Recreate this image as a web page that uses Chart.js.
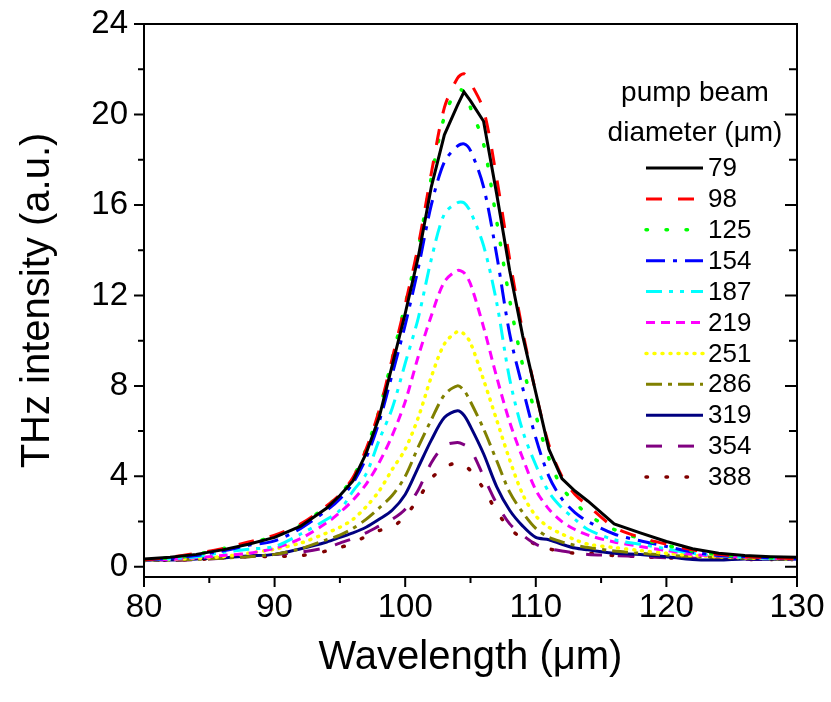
<!DOCTYPE html>
<html>
<head>
<meta charset="utf-8">
<script src="https://cdn.jsdelivr.net/npm/chart.js@4.4.1/dist/chart.umd.min.js"></script>
<style>
  html, body { margin: 0; padding: 0; background: #fff; }
</style>
</head>
<body>
<canvas id="thzChart" width="831" height="702"></canvas>
<script>
// wavelength grid (um) shared by all curves
const wavelength = [80, 82, 84, 86, 88, 90, 92, 94, 95, 96, 97, 98, 99, 100, 101, 102, 103, 104, 104.5,
                    105, 106, 107, 108, 109, 110, 111, 112, 113, 114, 116, 118, 120, 122, 124, 126, 128, 130];

const diameters = ['79', '98', '125', '154', '187', '219', '251', '286', '319', '354', '388'];

const s79  = [0.35, 0.42, 0.55, 0.75, 1.0, 1.3, 1.8, 2.6, 3.15, 3.8, 5.0, 6.6, 8.9, 11.2, 13.7, 16.8, 19.1, 20.4, 21.0,
              20.6, 19.7, 16.5, 13.1, 10.2, 7.7, 5.2, 3.9, 3.35, 2.9, 1.9, 1.5, 1.12, 0.8, 0.6, 0.5, 0.45, 0.42];
const s98  = [0.3, 0.42, 0.6, 0.8, 1.1, 1.4, 1.9, 2.7, 3.2, 3.95, 5.2, 6.9, 9.2, 11.6, 14.2, 17.4, 20.3, 21.6, 21.8,
              21.4, 20.2, 17.2, 13.6, 10.4, 7.7, 5.4, 4.0, 3.2, 2.7, 1.75, 1.3, 1.0, 0.75, 0.55, 0.45, 0.4, 0.35];
const s125 = [0.3, 0.4, 0.55, 0.8, 1.05, 1.35, 1.85, 2.7, 3.2, 3.95, 5.2, 6.9, 9.2, 11.6, 14.1, 17.2, 19.9, 21.1, 21.0,
              20.3, 18.7, 15.3, 11.8, 8.9, 6.7, 4.8, 3.5, 2.85, 2.3, 1.65, 1.25, 0.95, 0.7, 0.55, 0.45, 0.4, 0.35];
const s154 = [0.3, 0.38, 0.5, 0.7, 0.95, 1.15, 1.7, 2.5, 3.0, 3.7, 4.8, 6.4, 8.5, 10.7, 13.2, 16.0, 17.9, 18.6, 18.7,
              18.4, 16.8, 13.8, 10.3, 7.9, 5.7, 4.0, 3.0, 2.4, 2.0, 1.45, 1.15, 0.9, 0.65, 0.5, 0.45, 0.4, 0.35];
const s187 = [0.3, 0.35, 0.45, 0.63, 0.78, 0.9, 1.45, 2.1, 2.5, 3.35, 4.1, 5.6, 7.0, 9.0, 11.0, 13.6, 15.6, 16.1, 16.1,
              15.7, 14.2, 11.7, 8.3, 6.0, 4.5, 3.3, 2.6, 2.1, 1.65, 1.2, 1.0, 0.8, 0.6, 0.5, 0.42, 0.38, 0.35];
const s219 = [0.3, 0.33, 0.4, 0.5, 0.6, 0.82, 1.25, 1.95, 2.4, 2.95, 3.65, 4.6, 5.8, 7.3, 9.3, 11.1, 12.6, 13.1, 13.0,
              12.5, 10.6, 8.4, 6.4, 4.8, 3.4, 2.55, 2.0, 1.65, 1.4, 1.1, 0.9, 0.72, 0.55, 0.48, 0.42, 0.38, 0.35];
const s251 = [0.3, 0.33, 0.38, 0.45, 0.6, 0.78, 1.05, 1.5, 1.75, 2.1, 2.65, 3.35, 4.3, 5.2, 6.6, 8.4, 9.85, 10.4, 10.3,
              9.9, 8.27, 6.5, 4.73, 3.2, 2.25, 1.75, 1.45, 1.2, 1.0, 0.85, 0.72, 0.6, 0.5, 0.45, 0.4, 0.37, 0.35];
const s286 = [0.3, 0.3, 0.33, 0.38, 0.45, 0.55, 0.8, 1.2, 1.4, 1.7, 2.1, 2.6, 3.15, 4.0, 5.3, 6.5, 7.6, 8.0, 7.8,
              7.3, 6.1, 4.7, 3.3, 2.4, 1.7, 1.3, 1.1, 0.95, 0.85, 0.7, 0.6, 0.52, 0.45, 0.42, 0.38, 0.36, 0.34];
const s319 = [0.3, 0.3, 0.35, 0.4, 0.48, 0.55, 0.8, 1.1, 1.3, 1.5, 1.75, 2.1, 2.5, 3.2, 4.4, 5.6, 6.6, 6.9, 6.7,
              6.2, 5.0, 3.55, 2.5, 1.8, 1.3, 1.2, 1.0, 0.83, 0.75, 0.6, 0.55, 0.45, 0.32, 0.3, 0.35, 0.33, 0.35];
const s354 = [0.3, 0.28, 0.32, 0.38, 0.45, 0.55, 0.65, 0.85, 1.05, 1.25, 1.5, 1.8, 2.1, 2.55, 3.4, 4.6, 5.35, 5.5, 5.4,
              5.2, 4.0, 2.8, 1.9, 1.4, 1.0, 0.8, 0.7, 0.62, 0.55, 0.5, 0.45, 0.4, 0.38, 0.35, 0.33, 0.33, 0.33];
const s388 = [0.28, 0.3, 0.32, 0.4, 0.45, 0.46, 0.5, 0.7, 0.85, 1.05, 1.35, 1.6, 1.75, 2.25, 3.0, 3.9, 4.4, 4.6, 4.5,
              4.25, 3.45, 2.45, 1.7, 1.25, 1.0, 0.8, 0.68, 0.6, 0.6, 0.5, 0.45, 0.4, 0.38, 0.35, 0.33, 0.32, 0.32];

const xTicks = [80, 85, 90, 95, 100, 105, 110, 115, 120, 125, 130];
const yTicks = [0, 2, 4, 6, 8, 10, 12, 14, 16, 18, 20, 22, 24];

const seriesValues = [s79, s98, s125, s154, s187, s219, s251, s286, s319, s354, s388];
const colors = ['#000000', '#ff0000', '#00ff00', '#0000ff', '#00ffff', '#ff00ff',
                '#ffff00', '#808000', '#000080', '#800080', '#800000'];
const dashes = [[], [16, 16], [1.5, 18.5], [19, 8, 4, 8], [16, 7, 4, 7, 4, 7], [9, 6],
                [1, 7], [16, 6, 4, 6], [], [16, 16], [1.5, 18.5]];

const FONT = '"Liberation Sans", Arial, sans-serif';

const isDotted = d => d.length === 2 && d[0] < 2;

const datasets = seriesValues.map((vals, i) => ({
    label: diameters[i],
    data: vals.map((v, k) => ({ x: wavelength[k], y: v })),
    borderColor: colors[i],
    backgroundColor: colors[i],
    borderWidth: isDotted(dashes[i]) ? 3.5 : 3,
    borderDash: dashes[i],
    borderCapStyle: isDotted(dashes[i]) ? 'round' : 'butt',
    pointRadius: 0,
    tension: i === 0 ? 0 : 0.3,
    fill: false
}));

// frame box and tick marks (outward on left/bottom, inward on right)
const frameTicks = {
    id: 'frameTicks',
    afterDraw(chart) {
        const { ctx, chartArea: a, scales } = chart;
        ctx.save();
        ctx.strokeStyle = '#000';
        ctx.lineWidth = 2;
        ctx.strokeRect(a.left, a.top, a.right - a.left, a.bottom - a.top);
        ctx.beginPath();
        xTicks.forEach(v => {
            const px = scales.x.getPixelForValue(v);
            const len = v % 10 === 0 ? 10 : 6;
            ctx.moveTo(px, a.bottom);
            ctx.lineTo(px, a.bottom + len);
        });
        yTicks.forEach(v => {
            const py = scales.y.getPixelForValue(v);
            const len = v % 4 === 0 ? 10 : 6;
            ctx.moveTo(a.left - len, py);
            ctx.lineTo(a.left, py);
            ctx.moveTo(a.right, py);
            ctx.lineTo(a.right - len - 2, py);
        });
        ctx.stroke();
        ctx.restore();
    }
};

// legend box inside the plot, top right
const legendBox = {
    id: 'legendBox',
    afterDraw(chart) {
        const ctx = chart.ctx;
        ctx.save();
        ctx.fillStyle = '#000';
        ctx.textBaseline = 'middle';
        ctx.textAlign = 'center';
        ctx.font = '28px ' + FONT;
        ctx.fillText('pump beam', 695, 93);
        ctx.fillText('diameter (μm)', 695, 133);
        chart.data.datasets.forEach((ds, i) => {
            const y = 168 + i * 30.9;
            ctx.strokeStyle = ds.borderColor;
            ctx.lineWidth = ds.borderWidth;
            ctx.lineCap = ds.borderCapStyle;
            ctx.setLineDash(ds.borderDash);
            ctx.beginPath();
            ctx.moveTo(646, y);
            ctx.lineTo(703, y);
            ctx.stroke();
            ctx.setLineDash([]);
            ctx.textAlign = 'left';
            ctx.font = '26px ' + FONT;
            ctx.fillText(ds.label, 708, y + 1);
        });
        ctx.restore();
    }
};

new Chart(document.getElementById('thzChart'), {
    type: 'line',
    data: { datasets: datasets },
    options: {
        responsive: false,
        animation: false,
        devicePixelRatio: 1,
        layout: { padding: { top: 24, right: 34, left: 0, bottom: 0 } },
        plugins: {
            legend: { display: false },
            tooltip: { enabled: false }
        },
        scales: {
            x: {
                type: 'linear',
                min: 80,
                max: 130,
                afterFit: s => { s.height = 125; s.paddingLeft = 0; s.paddingRight = 0; },
                afterBuildTicks: s => { s.ticks = xTicks.map(v => ({ value: v })); },
                grid: { display: false, drawTicks: false },
                border: { display: false },
                ticks: {
                    padding: 11,
                    color: '#000',
                    font: { family: FONT, size: 33 },
                    maxRotation: 0,
                    callback: v => (v % 10 === 0 ? v : '')
                },
                title: {
                    display: true,
                    text: 'Wavelength (μm)',
                    color: '#000',
                    font: { family: FONT, size: 40 },
                    padding: { top: 0, bottom: 20 }
                }
            },
            y: {
                type: 'linear',
                min: -0.45,
                max: 24,
                afterFit: s => { s.width = 144; s.paddingTop = 0; s.paddingBottom = 0; },
                afterBuildTicks: s => { s.ticks = yTicks.map(v => ({ value: v })); },
                grid: { display: false, drawTicks: false },
                border: { display: false },
                ticks: {
                    padding: 16,
                    color: '#000',
                    font: { family: FONT, size: 33 },
                    callback: v => (v % 4 === 0 ? v : '')
                },
                title: {
                    display: true,
                    text: 'THz intensity (a.u.)',
                    color: '#000',
                    font: { family: FONT, size: 40 },
                    padding: { top: 14, bottom: 0 }
                }
            }
        }
    },
    plugins: [frameTicks, legendBox]
});
</script>
</body>
</html>
